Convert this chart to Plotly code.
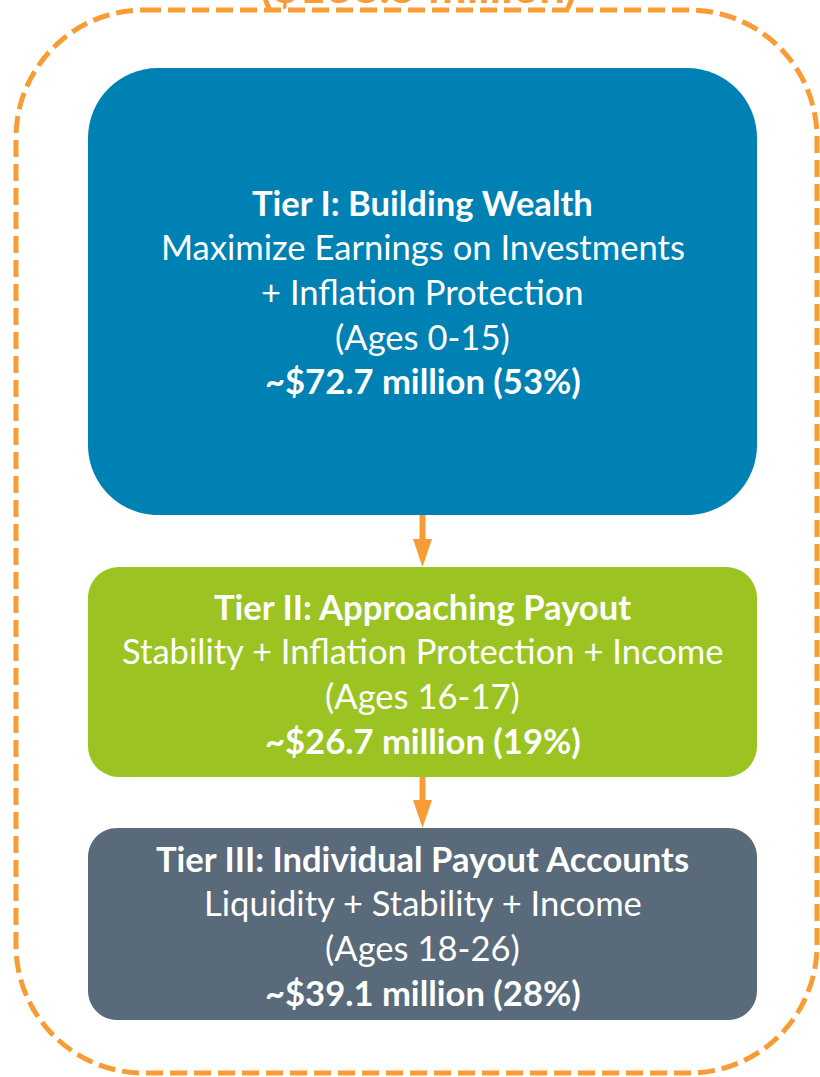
import plotly.graph_objects as go

# ---- data ----
tier_titles = ["Tier I: Building Wealth", "Tier II: Approaching Payout",
               "Tier III: Individual Payout Accounts"]
tier_objectives = [["Maximize Earnings on Investments", "+ Inflation Protection"],
                   ["Stability + Inflation Protection + Income"],
                   ["Liquidity + Stability + Income"]]
age_ranges = ["0-15", "16-17", "18-26"]
amounts_musd = [72.7, 26.7, 39.1]
shares_pct = [53, 19, 28]
total_musd = round(sum(amounts_musd), 1)

# ---- styling / layout ----
W, H = 820, 1077
box_colors = ["#0081B3", "#9BC423", "#596A7A"]
orange = "#F89C35"
box_x0, box_x1 = 88, 757
box_tops = [68, 567, 828]
box_bottoms = [515, 777, 1020]
box_radius = [70, 31, 29]
first_line_y = [202, 606, 858]
line_gap = 44.7
FONT = "Lato"
FS = 34.6


def rounded_path(x0, y0, x1, y1, r):
    k = 0.5523 * r
    return (f"M {x0+r},{y0} L {x1-r},{y0} "
            f"C {x1-r+k},{y0} {x1},{y0+r-k} {x1},{y0+r} "
            f"L {x1},{y1-r} "
            f"C {x1},{y1-r+k} {x1-r+k},{y1} {x1-r},{y1} "
            f"L {x0+r},{y1} "
            f"C {x0+r-k},{y1} {x0},{y1-r+k} {x0},{y1-r} "
            f"L {x0},{y0+r} "
            f"C {x0},{y0+r-k} {x0+r-k},{y0} {x0+r},{y0} Z")


shapes = []
annotations = []

# outer dashed container
shapes.append(dict(type="path", path=rounded_path(16, 10, 817, 1073, 128),
                   line=dict(color=orange, width=5, dash="17px,7px"),
                   fillcolor="rgba(0,0,0,0)", layer="below"))

cx = (box_x0 + box_x1) / 2
for i in range(3):
    shapes.append(dict(type="path",
                       path=rounded_path(box_x0, box_tops[i], box_x1, box_bottoms[i], box_radius[i]),
                       fillcolor=box_colors[i], line=dict(width=0), layer="below"))
    lines = [(f"<b>{tier_titles[i]}</b>")] + tier_objectives[i] + \
            [f"(Ages {age_ranges[i]})", f"<b>~${amounts_musd[i]} million ({shares_pct[i]}%)</b>"]
    for j, t in enumerate(lines):
        annotations.append(dict(x=cx, y=first_line_y[i] + j * line_gap, xref="x", yref="y",
                                text=t, showarrow=False, xanchor="center", yanchor="middle",
                                font=dict(family=FONT, size=FS, color="white")))

# arrows between boxes
for i in range(2):
    y_start = box_bottoms[i]
    y_end = box_tops[i + 1]
    head_h = 28
    shapes.append(dict(type="line", x0=cx, x1=cx, y0=y_start, y1=y_end - head_h + 2,
                       line=dict(color=orange, width=6)))
    shapes.append(dict(type="path",
                       path=f"M {cx-9.5},{y_end-head_h} L {cx+9.5},{y_end-head_h} L {cx},{y_end} Z",
                       fillcolor=orange, line=dict(width=0)))

# top total label (partially cut off by page edge, as in the original)
annotations.append(dict(x=(cx - 4) / W, y=1 + 14.5 / H, xref="paper", yref="paper",
                        text=f"<b>(${total_musd} million)</b>", showarrow=False,
                        xanchor="center", yanchor="middle",
                        font=dict(family=FONT, size=46, color=orange)))

fig = go.Figure()
fig.update_layout(
    width=W, height=H,
    margin=dict(l=0, r=0, t=0, b=0),
    paper_bgcolor="white", plot_bgcolor="white",
    xaxis=dict(range=[0, W], visible=False, fixedrange=True),
    yaxis=dict(range=[H, 0], visible=False, fixedrange=True),
    shapes=shapes, annotations=annotations, showlegend=False,
)
fig.write_html("out.html", config={"displayModeBar": False},
               post_script="document.body.style.margin='0';document.body.style.overflow='hidden';")
